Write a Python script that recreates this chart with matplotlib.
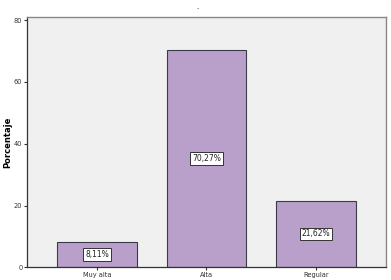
import matplotlib
matplotlib.use("Agg")
import matplotlib.pyplot as plt

categories = ["Muy alta", "Alta", "Regular"]
values = [8.11, 70.27, 21.62]
labels = ["8,11%", "70,27%", "21,62%"]
yticks = [0, 20, 40, 60, 80]

fig = plt.figure(figsize=(3.91, 2.8), dpi=100)
fig.patch.set_facecolor("white")
ax = fig.add_axes([0.069, 0.045, 0.918, 0.894])
ax.set_facecolor("#f0f0f0")

x = list(range(len(categories)))
ax.bar(x, values, width=0.73, color="#b9a0cb", edgecolor="#3a3a48", linewidth=0.8)
for xi, v, lab in zip(x, values, labels):
    ax.text(xi, v / 2, lab, ha="center", va="center", fontsize=5.5, color="#222222",
            bbox=dict(boxstyle="square,pad=0.25", facecolor="white", edgecolor="#333333", linewidth=0.7))

ax.set_xlim(-0.64, 2.64)
ax.set_ylim(0, 81)
ax.set_yticks(yticks)
ax.set_yticklabels([str(t) for t in yticks], fontsize=4.8, color="#333333")
ax.set_xticks(x)
ax.set_xticklabels(categories, fontsize=4.8, color="#333333")
ax.tick_params(axis="both", length=2.5, width=0.8, color="#333333", pad=0.8)
ax.set_ylabel("Porcentaje", fontsize=6, fontweight="bold")
ax.yaxis.set_label_coords(-0.042, 0.5)

for side in ["top", "right"]:
    ax.spines[side].set_color("#888888")
    ax.spines[side].set_linewidth(1.0)
for side in ["left", "bottom"]:
    ax.spines[side].set_color("#333333")
    ax.spines[side].set_linewidth(0.9)

fig.text(0.504, 0.985, ".", ha="center", va="top", fontsize=5)

fig.savefig("out.png", dpi=100)
